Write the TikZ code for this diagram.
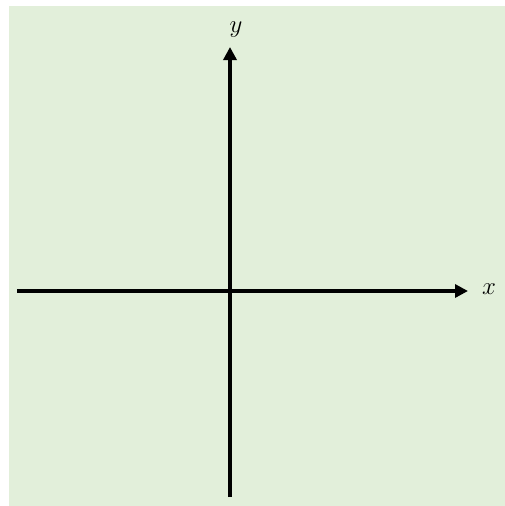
\documentclass[tikz,border=0pt]{standalone}
\usepackage{xcolor}
\usetikzlibrary{arrows.meta}
\definecolor{panelgreen}{HTML}{E2EFDA}

\begin{document}
\begin{tikzpicture}[
    x=1pt, y=-1pt,
    axis/.style={-{Triangle[length=13pt, width=13pt]}, line width=3.8pt, draw=black},
    lbl/.style={font=\fontsize{30}{30}\selectfont, inner sep=0pt}
]
\useasboundingbox (0,0) rectangle (505,506);
\fill[panelgreen] (9,6) rectangle (505,506);
% axes
\coordinate (xstart) at (17,291);
\coordinate (xend) at (468,291);
\coordinate (ystart) at (230,497);
\coordinate (yend) at (230,47);
\draw[axis] (xstart) -- (xend);
\draw[axis] (ystart) -- (yend);
\node[lbl] (xl) at (489,289) {$x$};
\node[lbl] (yl) at (236,30) {$y$};
\end{tikzpicture}
\end{document}
